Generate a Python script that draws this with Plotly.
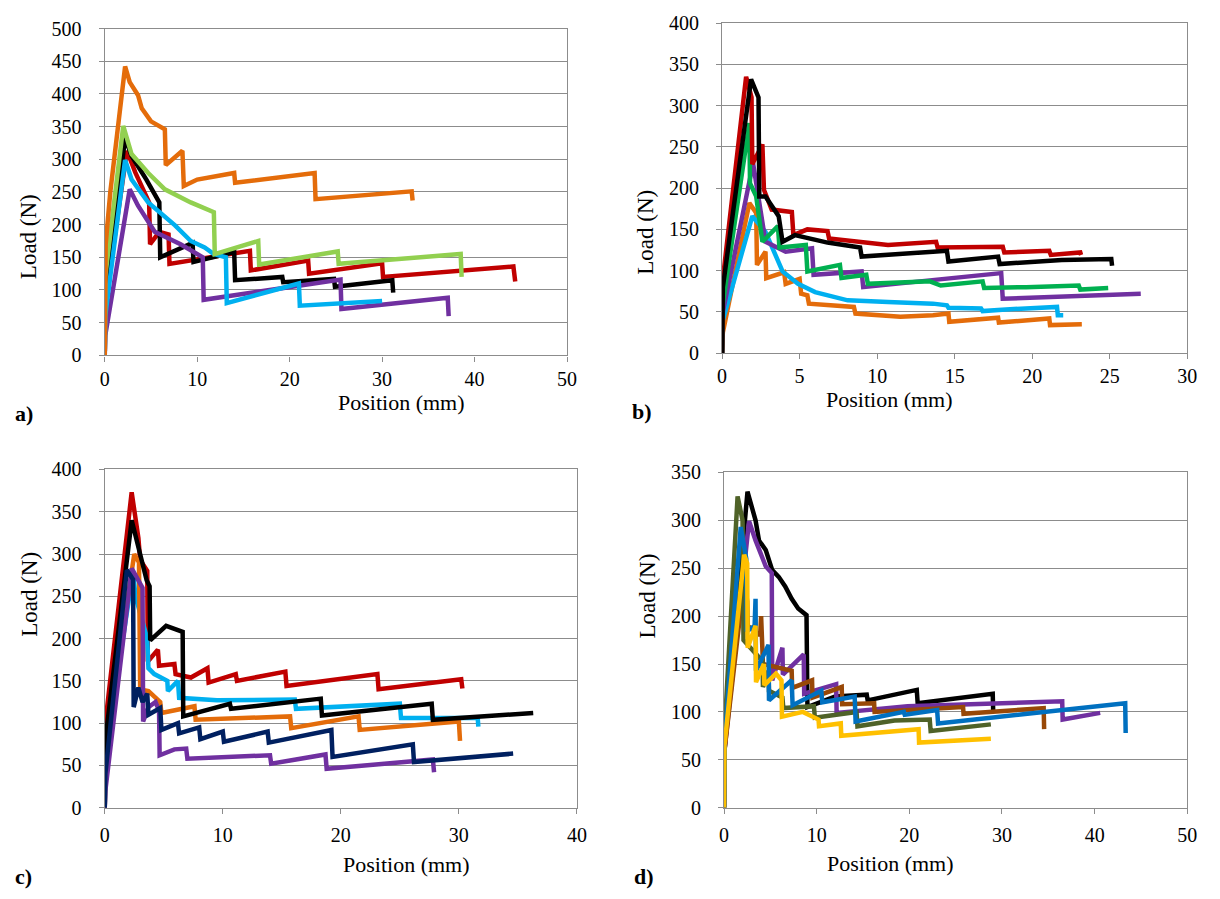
import plotly.graph_objects as go

# ---------------- data: panel a ----------------
a_orange_x = [0, 0.1, 0.6, 2.2, 2.7, 3.6, 4.0, 5.0, 6.5, 6.6, 8.4, 8.55, 10.0, 14.0, 14.1, 17.8, 22.7, 22.8, 33.2, 33.3]
a_orange_y = [0, 170, 250, 442, 418, 398, 378, 358, 346, 291, 313, 259, 269, 279, 264, 271, 279, 239, 251, 237]
a_green_x = [0, 0.05, 2.0, 2.9, 4.7, 6.5, 9.3, 11.8, 11.9, 16.6, 16.7, 25.2, 25.3, 38.5, 38.6]
a_green_y = [0, 120, 351, 308, 279, 254, 234, 219, 155, 175, 139, 159, 140, 155, 120]
a_black_x = [0, 0.05, 2.2, 2.9, 4.5, 5.9, 6.0, 9.5, 9.6, 14.0, 14.1, 19.2, 19.3, 24.8, 24.9, 31.1, 31.2]
a_black_y = [0, 80, 333, 305, 269, 234, 150, 172, 143, 158, 115, 120, 112, 117, 105, 115, 96]
a_red_x = [0, 0.05, 2.4, 3.3, 4.8, 4.9, 5.9, 6.9, 7.0, 15.7, 15.8, 22.0, 22.1, 30.0, 30.1, 44.2, 44.4]
a_red_y = [0, 80, 313, 280, 234, 170, 189, 185, 140, 160, 130, 145, 125, 141, 120, 136, 113]
a_blue_x = [0, 0.05, 2.2, 2.9, 4.7, 7.6, 9.3, 10.8, 11.8, 13.1, 13.2, 21.0, 21.1, 30.0]
a_blue_y = [0, 60, 299, 269, 234, 199, 175, 165, 155, 150, 80, 110, 76, 83]
a_purple_x = [0, 0.05, 2.7, 3.6, 5.4, 8.2, 10.6, 10.7, 25.5, 25.6, 37.1, 37.2]
a_purple_y = [0, 30, 254, 229, 189, 170, 150, 85, 116, 71, 88, 60]

# ---------------- data: panel b ----------------
b_red_x = [0, 0.05, 1.55, 1.9, 1.95, 2.6, 2.7, 3.2, 4.5, 4.6, 5.5, 6.8, 6.9, 10.7, 13.8, 13.9, 18.1, 18.2, 21.1, 21.2, 23.1, 23.15]
b_red_y = [0, 90, 335, 310, 229, 253, 198, 174, 171, 143, 150, 148, 139, 131, 135, 128, 129, 122, 124, 119, 122, 119]
b_black_x = [0, 0.05, 1.87, 2.2, 2.35, 2.4, 2.8, 3.65, 3.9, 4.7, 6.8, 8.9, 9.0, 13.6, 14.5, 14.6, 17.8, 17.9, 21.9, 25.1, 25.15]
b_black_y = [0, 80, 332, 314, 310, 190, 190, 166, 135, 143, 134, 128, 117, 123, 124, 111, 117, 108, 113, 114, 106]
b_green_x = [0, 0.05, 1.76, 1.8, 2.2, 2.6, 3.6, 3.7, 5.4, 5.5, 7.6, 7.7, 9.3, 9.4, 13.4, 14.1, 16.8, 16.9, 19.6, 23.0, 23.1, 24.9]
b_green_y = [0, 60, 279, 206, 190, 135, 154, 128, 131, 99, 107, 91, 95, 84, 87, 82, 87, 79, 80, 82, 77, 79]
b_purple_x = [0, 0.05, 2.0, 2.1, 2.8, 4.1, 5.8, 5.9, 9.0, 9.1, 18.0, 18.1, 27.0]
b_purple_y = [0, 50, 230, 217, 135, 123, 127, 95, 99, 80, 97, 66, 72]
b_blue_x = [0, 0.05, 1.95, 2.8, 3.9, 4.9, 6.0, 8.1, 10.7, 13.6, 14.5, 14.6, 16.7, 16.8, 18.3, 21.6, 21.65, 22.0]
b_blue_y = [0, 40, 166, 147, 99, 84, 74, 64, 62, 60, 58, 55, 54, 51, 53, 56, 46, 46]
b_orange_x = [0, 0.05, 1.76, 2.2, 2.25, 2.8, 2.85, 3.5, 4.0, 4.1, 5.0, 5.1, 5.5, 5.6, 8.5, 8.6, 11.5, 13.6, 14.6, 14.65, 17.8, 17.85, 21.1, 21.15, 23.2]
b_orange_y = [0, 25, 182, 170, 107, 123, 91, 95, 98, 84, 90, 72, 70, 60, 56, 48, 44, 46, 48, 38, 43, 37, 42, 34, 35]

# ---------------- data: panel c ----------------
c_red_x = [0, 0.05, 2.28, 2.85, 3.0, 3.6, 3.65, 4.5, 4.6, 5.9, 6.0, 7.3, 8.7, 8.8, 11.1, 11.2, 15.3, 15.4, 23.1, 23.2, 30.2, 30.3]
c_red_y = [0, 100, 373, 319, 293, 280, 173, 187, 168, 170, 158, 154, 165, 148, 158, 150, 161, 144, 158, 140, 152, 141]
c_black_x = [0, 0.05, 2.28, 2.7, 3.1, 3.55, 3.8, 3.85, 5.2, 6.6, 6.65, 10.6, 10.7, 18.3, 18.4, 27.7, 27.8, 36.3]
c_black_y = [0, 80, 340, 317, 292, 269, 262, 198, 215, 208, 108, 123, 117, 129, 109, 123, 104, 112]
c_blue_x = [0, 0.05, 2.4, 2.6, 3.6, 3.7, 4.2, 5.3, 5.35, 6.2, 6.3, 9.5, 16.1, 16.2, 25.0, 25.1, 31.6, 31.65]
c_blue_y = [0, 60, 280, 250, 200, 165, 158, 150, 138, 150, 130, 127, 128, 117, 123, 106, 106, 96]
c_orange_x = [0, 0.05, 2.5, 2.9, 3.0, 3.7, 4.7, 4.8, 7.6, 7.7, 15.7, 15.8, 21.5, 21.6, 30.0, 30.1]
c_orange_y = [0, 70, 300, 290, 140, 138, 125, 112, 120, 104, 108, 94, 108, 92, 102, 79]
c_navy_x = [0, 0.05, 1.87, 2.4, 2.45, 2.85, 3.2, 3.6, 3.7, 4.7, 4.8, 6.2, 6.3, 8.0, 8.1, 10.0, 10.1, 13.8, 13.9, 19.2, 19.3, 26.1, 26.2, 34.6]
c_navy_y = [0, 40, 281, 270, 119, 142, 125, 135, 110, 118, 92, 100, 88, 95, 81, 90, 78, 90, 77, 92, 60, 75, 54, 64]
c_purple_x = [0, 0.05, 2.28, 3.0, 3.2, 3.25, 3.7, 4.3, 4.6, 4.65, 5.9, 6.9, 7.0, 14.0, 14.1, 18.7, 18.8, 27.8, 27.9]
c_purple_y = [0, 20, 283, 265, 260, 102, 119, 125, 115, 62, 69, 70, 58, 62, 52, 63, 46, 57, 42]

# ---------------- data: panel d ----------------
d_black_x = [0, 0.05, 2.53, 3.06, 3.4, 3.77, 4.5, 5.2, 5.9, 6.6, 7.3, 8.0, 8.9, 9.0, 12.0, 15.4, 15.5, 20.8, 20.9, 29.0, 29.05]
d_black_y = [0, 60, 330, 313, 300, 279, 269, 248, 241, 231, 218, 208, 201, 105, 116, 118, 112, 123, 109, 119, 101]
d_olive_x = [0, 0.05, 1.46, 2.0, 2.1, 3.5, 4.15, 4.2, 4.8, 4.85, 6.3, 6.4, 9.7, 9.8, 14.3, 14.4, 18.4, 22.2, 22.3, 28.8]
d_olive_y = [0, 80, 325, 300, 175, 160, 153, 126, 143, 122, 115, 104, 106, 94, 100, 85, 91, 92, 80, 87]
d_purple_x = [0, 0.05, 2.7, 3.4, 4.5, 5.15, 5.2, 6.3, 6.35, 8.6, 8.65, 12.1, 12.15, 19.8, 36.5, 36.55, 40.6]
d_purple_y = [0, 60, 299, 279, 252, 245, 133, 167, 139, 160, 119, 129, 99, 106, 111, 92, 99]
d_brown_x = [0, 0.05, 2.2, 2.5, 2.55, 3.9, 4.0, 4.1, 4.2, 7.3, 7.35, 9.5, 9.55, 12.7, 12.75, 16.2, 16.25, 25.8, 25.85, 34.5, 34.55]
d_brown_y = [0, 60, 240, 215, 190, 180, 200, 177, 150, 143, 125, 133, 115, 126, 108, 109, 100, 105, 98, 104, 82]
d_blue_x = [0, 0.05, 1.8, 2.4, 2.45, 3.3, 3.4, 3.45, 4.8, 4.85, 7.3, 7.4, 10.5, 10.6, 14.1, 14.2, 19.4, 19.5, 23.0, 23.1, 43.3, 43.35]
d_blue_y = [0, 70, 293, 260, 184, 190, 218, 143, 170, 112, 133, 107, 122, 110, 116, 90, 100, 97, 102, 88, 109, 78]
d_yellow_x = [0, 0.05, 2.17, 2.5, 2.55, 3.4, 3.45, 4.3, 4.35, 5.6, 6.2, 6.25, 8.5, 10.2, 10.25, 12.6, 12.65, 21.0, 21.05, 28.8]
d_yellow_y = [0, 65, 264, 255, 167, 190, 131, 150, 128, 140, 133, 95, 100, 92, 85, 88, 75, 82, 68, 72]

# axis settings
x_ranges = [[0, 50], [0, 30], [0, 40], [0, 50]]
x_dticks = [10, 5, 10, 10]
y_ranges = [[0, 500], [0, 400], [0, 400], [0, 350]]
panel_labels = ["a)", "b)", "c)", "d)"]

ORANGE = "#E46C0A"; LGREEN = "#92D050"; BLACK = "#000000"; RED = "#C00000"
LBLUE = "#00B0F0"; PURPLE = "#7030A0"; GREEN = "#00B050"; NAVY = "#002060"
OLIVE = "#4F6228"; BROWN = "#984807"; BLUE = "#0070C0"; YELLOW = "#FFC000"

panels = [
    [(a_red_x, a_red_y, RED), (a_black_x, a_black_y, BLACK), (a_purple_x, a_purple_y, PURPLE),
     (a_blue_x, a_blue_y, LBLUE), (a_green_x, a_green_y, LGREEN), (a_orange_x, a_orange_y, ORANGE)],
    [(b_orange_x, b_orange_y, ORANGE), (b_blue_x, b_blue_y, LBLUE), (b_purple_x, b_purple_y, PURPLE),
     (b_green_x, b_green_y, GREEN), (b_red_x, b_red_y, RED), (b_black_x, b_black_y, BLACK)],
    [(c_red_x, c_red_y, RED), (c_blue_x, c_blue_y, LBLUE), (c_orange_x, c_orange_y, ORANGE),
     (c_black_x, c_black_y, BLACK), (c_purple_x, c_purple_y, PURPLE), (c_navy_x, c_navy_y, NAVY)],
    [(d_black_x, d_black_y, BLACK), (d_purple_x, d_purple_y, PURPLE), (d_brown_x, d_brown_y, BROWN),
     (d_olive_x, d_olive_y, OLIVE), (d_blue_x, d_blue_y, BLUE), (d_yellow_x, d_yellow_y, YELLOW)],
]

W, H = 1220, 899
# plot-area boxes in pixels: (left, right, top, bottom)
boxes = [(101, 569, 18, 353), (726, 1197, 12.5, 350.7), (101, 579, 470, 816.7), (728, 1197, 473, 816.7)]
# vertical offsets (px below plot bottom) of x-title and panel label
title_off = [48, 48, 58, 57]
label_off = [60, 60, 71, 70]
xlab_standoff = [0, 0, 4, 4]

FONT = "Liberation Serif"
GRID = "#8c8c8c"

fig = go.Figure()
for i, series in enumerate(panels):
    sfx = "" if i == 0 else str(i + 1)
    for xs, ys, col in series:
        fig.add_trace(go.Scatter(x=xs, y=ys, mode="lines", showlegend=False,
                                 line=dict(color=col, width=4.5, shape="linear"),
                                 xaxis="x" + sfx, yaxis="y" + sfx, hoverinfo="skip"))
    l, r, t, b = boxes[i]
    xd = [l / W, r / W]
    yd = [1 - b / H, 1 - t / H]
    common = dict(showline=True, linecolor=GRID, linewidth=1.3, mirror=True,
                  ticks="outside", ticklen=5, tickcolor=GRID, tickwidth=1.3,
                  zeroline=False, tickfont=dict(family=FONT, size=20, color="black"))
    fig.update_layout(**{
        "xaxis" + sfx: dict(domain=xd, range=x_ranges[i], dtick=x_dticks[i], showgrid=False,
                            anchor="y" + sfx, ticklabelstandoff=xlab_standoff[i], **common),
        "yaxis" + sfx: dict(domain=yd, range=y_ranges[i], dtick=50, showgrid=True,
                            gridcolor=GRID, gridwidth=1.3, anchor="x" + sfx,
                            ticklabelstandoff=13, **common),
    })
    # axis titles
    fig.add_annotation(text="Position (mm)", xref="paper", yref="paper",
                       x=(l + r) / 2 / W, y=1 - (b + title_off[i]) / H, showarrow=False,
                       font=dict(family=FONT, size=22, color="black"), yanchor="middle")
    fig.add_annotation(text="Load (N)", xref="paper", yref="paper", textangle=-90,
                       x=(l - 77) / W, y=1 - (t + b) / 2 / H, showarrow=False,
                       font=dict(family=FONT, size=23, color="black"), xanchor="center")
    fig.add_annotation(text="<b>" + panel_labels[i] + "</b>", xref="paper", yref="paper",
                       x=(l - 93) / W, y=1 - (b + label_off[i]) / H, showarrow=False, xanchor="left",
                       yanchor="middle", font=dict(family=FONT, size=22, color="black"))

fig.update_layout(width=W, height=H, margin=dict(l=0, r=0, t=0, b=0),
                  font=dict(family=FONT, size=20, color="black"),
                  paper_bgcolor="white", plot_bgcolor="white")
fig.write_html("out.html")
